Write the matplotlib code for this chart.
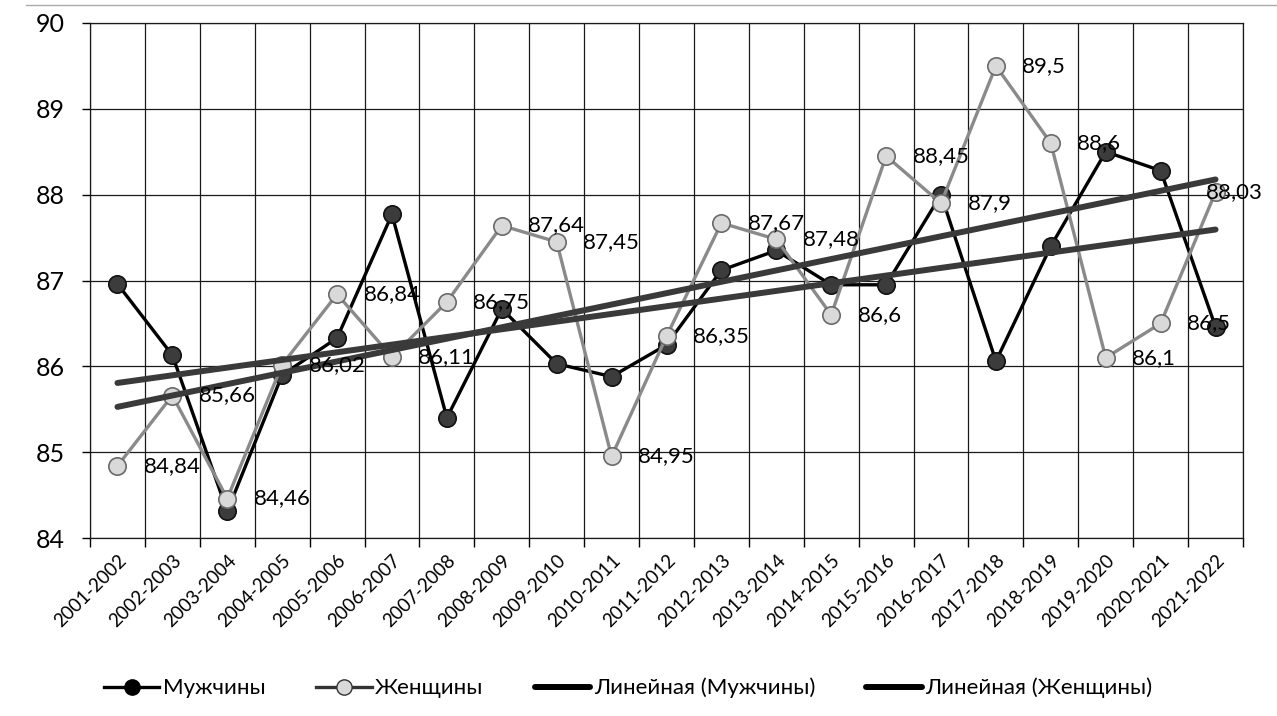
import numpy as np
import matplotlib
matplotlib.use('Agg')
import matplotlib.pyplot as plt
from matplotlib.lines import Line2D
from matplotlib.transforms import ScaledTranslation

plt.rcParams['font.family'] = ['Lato', 'Noto Sans', 'DejaVu Sans']

seasons = ['2001-2002', '2002-2003', '2003-2004', '2004-2005', '2005-2006',
           '2006-2007', '2007-2008', '2008-2009', '2009-2010', '2010-2011',
           '2011-2012', '2012-2013', '2013-2014', '2014-2015', '2015-2016',
           '2016-2017', '2017-2018', '2018-2019', '2019-2020', '2020-2021',
           '2021-2022']
men = [86.96, 86.13, 84.31, 85.90, 86.33, 87.77, 85.40, 86.67, 86.03, 85.88,
       86.25, 87.12, 87.35, 86.95, 86.95, 88.00, 86.06, 87.40, 88.50, 88.28,
       86.46]
women = [84.84, 85.66, 84.46, 86.02, 86.84, 86.11, 86.75, 87.64, 87.45, 84.95,
         86.35, 87.67, 87.48, 86.60, 88.45, 87.90, 89.50, 88.60, 86.10, 86.50,
         88.03]
women_labels = ['84,84', '85,66', '84,46', '86,02', '86,84', '86,11', '86,75',
                '87,64', '87,45', '84,95', '86,35', '87,67', '87,48', '86,6',
                '88,45', '87,9', '89,5', '88,6', '86,1', '86,5', '88,03']

x = np.arange(len(seasons))

fig = plt.figure(figsize=(12.77, 7.16), dpi=100)
ax = fig.add_axes([90 / 1277, 1 - 538 / 716, 1153 / 1277, 515 / 716])

# series
ax.plot(x, men, color='black', lw=2.4, marker='o', markersize=12.5,
        markerfacecolor='#3c3c3c', markeredgecolor='#111111', markeredgewidth=1.2,
        label='Мужчины', zorder=3)
ax.plot(x, women, color='#8a8a8a', lw=2.4, marker='o', markersize=12.5,
        markerfacecolor='#d9d9d9', markeredgecolor='#6a6a6a', markeredgewidth=1.2,
        label='Женщины', zorder=4)

# linear trends (Excel-style)
k_m, b_m = np.polyfit(x, men, 1)
k_w, b_w = np.polyfit(x, women, 1)
ax.plot(x, k_m * x + b_m, color='#3a3a3a', lw=4.3, solid_capstyle='round',
        label='Линейная (Мужчины)', zorder=5)
ax.plot(x, k_w * x + b_w, color='#3a3a3a', lw=4.3, solid_capstyle='round',
        label='Линейная (Женщины)', zorder=5)

# data labels for women; the last one is pulled inside the chart like Excel does
for i, (xi, yi, t) in enumerate(zip(x, women, women_labels)):
    dx = -7 if i == len(x) - 1 else 19
    ax.annotate(t, (xi, yi), xytext=(dx, 0), textcoords='offset points',
                ha='left', va='center', fontsize=16, color='black', zorder=6)

# axes
ax.set_xlim(-0.5, len(seasons) - 0.5)
ax.set_ylim(84, 90)
ax.set_yticks(range(84, 91))
ax.set_xticks(x)
ax.set_xticklabels(seasons, rotation=45, ha='right', rotation_mode='anchor',
                   fontsize=13.5)
shift = ScaledTranslation(16 / 100, 0, fig.dpi_scale_trans)
for lbl in ax.get_xticklabels():
    lbl.set_transform(lbl.get_transform() + shift)
ax.set_xticks(np.arange(-0.5, len(seasons)), minor=True)
ax.tick_params(axis='x', which='major', length=0, pad=10)
ax.tick_params(axis='x', which='minor', length=6.5, width=1.0, color='black',
               direction='out')
ax.tick_params(axis='y', length=6, width=1.0, color='black', pad=12,
               labelsize=18)
ax.grid(True, which='minor', axis='x', color='#1a1a1a', lw=0.9)
ax.grid(True, which='major', axis='y', color='#1a1a1a', lw=0.9)
for s in ax.spines.values():
    s.set_color('#1a1a1a')
    s.set_linewidth(0.9)

# thin scanned border at the very top
fig.add_artist(Line2D([0.02, 1.0], [1 - 5 / 716, 1 - 5 / 716],
                      color='#aaaaaa', lw=1.0, transform=fig.transFigure))

leg_handles = [
    Line2D([], [], color='black', lw=2.4, marker='o', markersize=11,
           markerfacecolor='black', markeredgecolor='black'),
    Line2D([], [], color='#333333', lw=2.4, marker='o', markersize=11,
           markerfacecolor='#d9d9d9', markeredgecolor='#333333'),
    Line2D([], [], color='black', lw=4.3, solid_capstyle='round'),
    Line2D([], [], color='black', lw=4.3, solid_capstyle='round'),
]
fig.legend(leg_handles, ['Мужчины', 'Женщины', 'Линейная (Мужчины)',
                         'Линейная (Женщины)'],
           loc='center', bbox_to_anchor=(628 / 1277, 1 - 688 / 716), ncol=4,
           frameon=False, fontsize=16, handlelength=2.5, handletextpad=0.15,
           columnspacing=2.3)

fig.savefig('out.png', dpi=100)
